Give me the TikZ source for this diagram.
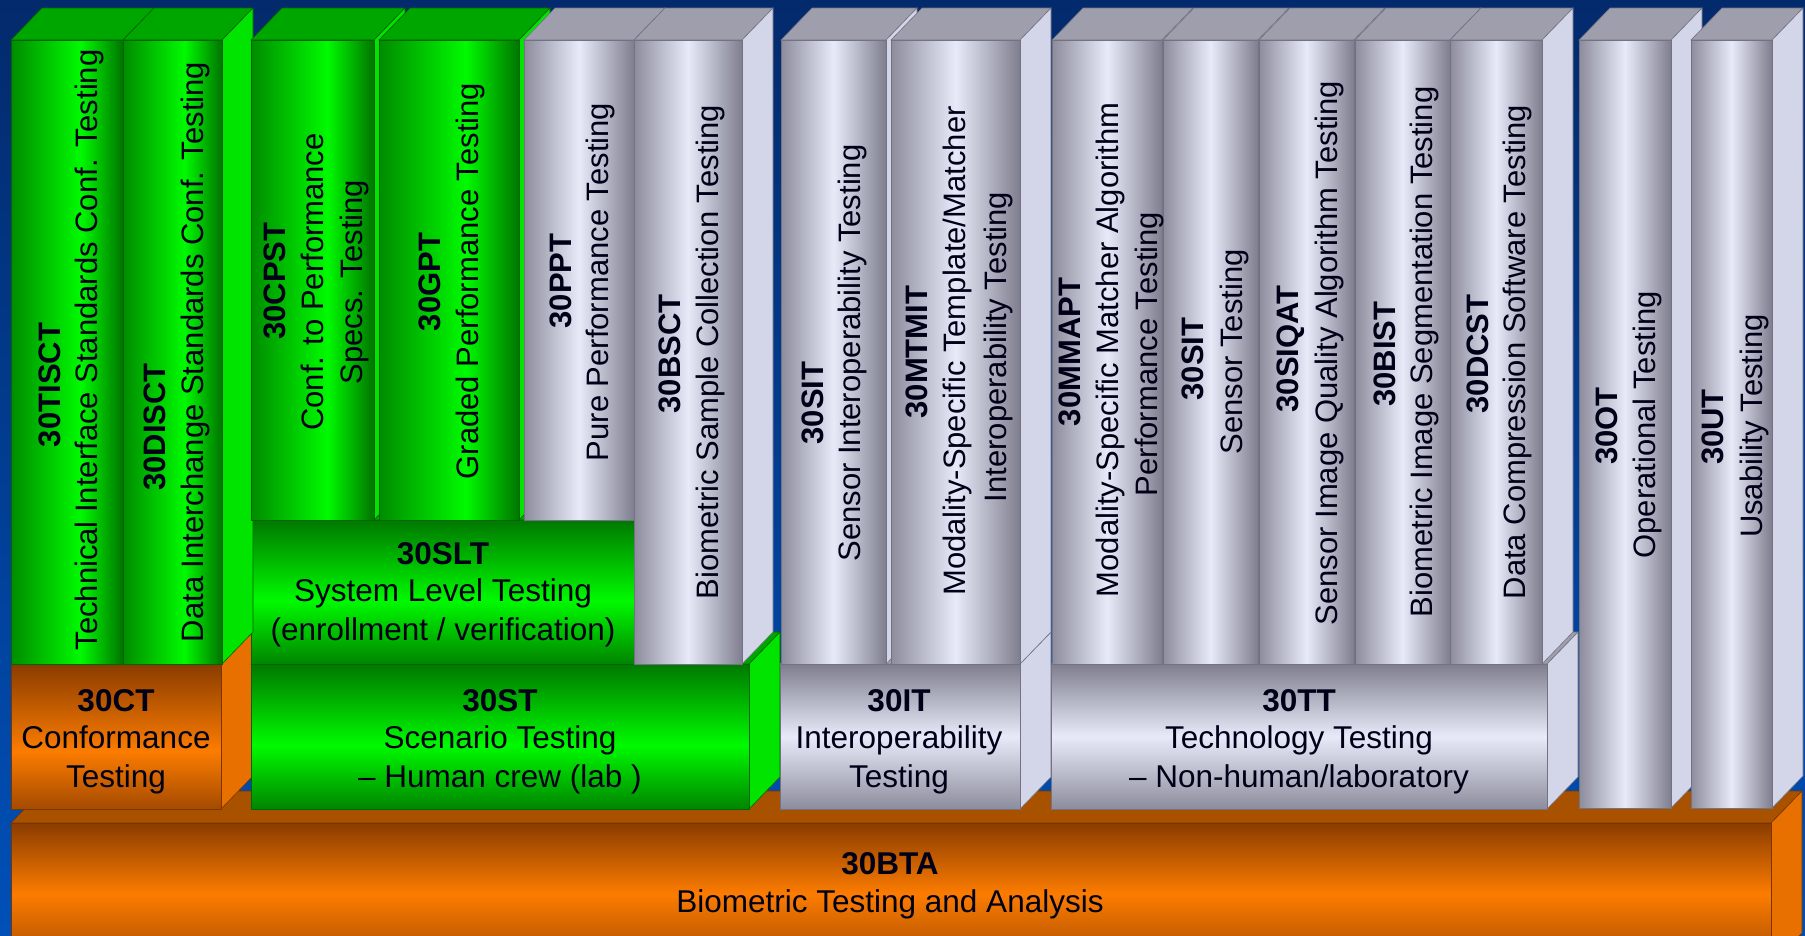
\documentclass[tikz,border=0pt]{standalone}
\usepackage{fontspec}
\setmainfont{Liberation Sans}

\definecolor{bgtop}{HTML}{032A6C}
\definecolor{bgbot}{HTML}{0050B8}
\definecolor{ink}{HTML}{000018}
\definecolor{grA}{HTML}{008C00}
\definecolor{grB}{HTML}{00FA00}
\definecolor{grC}{HTML}{007400}
\definecolor{grD}{HTML}{008400}
\definecolor{grE}{HTML}{007800}
\definecolor{grtop}{HTML}{00A600}
\definecolor{grside}{HTML}{00E400}
\definecolor{grline}{HTML}{006400}
\definecolor{gyA}{HTML}{8C8C9C}
\definecolor{gyB}{HTML}{E8EAFA}
\definecolor{gyC}{HTML}{7E7E8E}
\definecolor{gytop}{HTML}{9E9EAC}
\definecolor{gyside}{HTML}{D3D5E8}
\definecolor{gyline}{HTML}{727282}
\definecolor{orA}{HTML}{8A3C00}
\definecolor{orB}{HTML}{FC7C00}
\definecolor{orC}{HTML}{A44A00}
\definecolor{ortop}{HTML}{A85200}
\definecolor{orside}{HTML}{E87000}
\definecolor{orline}{HTML}{7A3400}

\pgfdeclarehorizontalshading{grcol}{100bp}{color(0bp)=(grA); color(25bp)=(grA); color(56bp)=(grB); color(75bp)=(grC); color(100bp)=(grC)}
\pgfdeclarehorizontalshading{gycol}{100bp}{color(0bp)=(gyA); color(25bp)=(gyA); color(50bp)=(gyB); color(75bp)=(gyC); color(100bp)=(gyC)}
\pgfdeclareverticalshading{grbox}{100bp}{color(0bp)=(grD); color(25bp)=(grD); color(47bp)=(grB); color(75bp)=(grE); color(100bp)=(grE)}
\pgfdeclareverticalshading{gybox}{100bp}{color(0bp)=(gyA); color(25bp)=(gyA); color(50bp)=(gyB); color(75bp)=(gyC); color(100bp)=(gyC)}
\pgfdeclareverticalshading{orbox}{100bp}{color(0bp)=(orC); color(25bp)=(orC); color(45bp)=(orB); color(75bp)=(orA); color(100bp)=(orA)}
\pgfdeclareverticalshading{orbase}{100bp}{color(0bp)=(orC); color(25bp)=(orC); color(50bp)=(orB); color(75bp)=(orA); color(100bp)=(orA)}

% #1,#2 left/right of front face, #3,#4 top/bottom, #5 colour family, #6 front shading
\newcommand{\prism}[6]{%
  \filldraw[fill=#5top, draw=#5line, line width=0.6pt] (#1,#3) -- (#1+31,#3-32) -- (#2+31,#3-32) -- (#2,#3) -- cycle;
  \filldraw[fill=#5side, draw=#5line, line width=0.6pt] (#2,#3) -- (#2+31,#3-32) -- (#2+31,#4-32) -- (#2,#4) -- cycle;
  \shade[shading=#5#6, draw=#5line, line width=0.6pt] (#1,#3) rectangle (#2,#4);
}

\begin{document}
\begin{tikzpicture}[x=1pt, y=-1pt,
    colcode/.style={rotate=90, anchor=base, inner sep=0pt, text=ink, font=\fontsize{31}{37}\selectfont\bfseries},
    coltxt/.style={rotate=90, anchor=base, inner sep=0pt, text=ink, font=\fontsize{31}{37}\selectfont},
    boxcode/.style={anchor=base, inner sep=0pt, text=ink, font=\fontsize{31.5}{38}\selectfont\bfseries},
    boxtxt/.style={anchor=base, inner sep=0pt, text=ink, font=\fontsize{31.5}{38}\selectfont}]
\useasboundingbox (0,0) rectangle (1805,935);
\clip (0,0) rectangle (1805,935);
\shade[top color=bgtop, bottom color=bgbot] (0,0) rectangle (1805,935);

% base block
\prism{11}{1771}{823}{965}{or}{base}

% second row
\prism{11}{221}{664}{809}{or}{box}
\prism{251}{749}{664}{809}{gr}{box}
\prism{780}{1020}{664}{809}{gy}{box}
\prism{1051}{1547}{664}{809}{gy}{box}
\prism{1579}{1671}{40}{808}{gy}{col}
\prism{1691}{1772}{40}{808}{gy}{col}
\prism{251}{634}{520}{664}{gr}{box}

% columns
\prism{11}{123}{40}{664}{gr}{col}
\prism{123}{222}{40}{664}{gr}{col}
\prism{251}{374}{40}{520}{gr}{col}
\prism{379}{519}{40}{520}{gr}{col}
\prism{524}{634}{40}{520}{gy}{col}
\prism{634}{742}{40}{664}{gy}{col}
\prism{781}{886}{40}{664}{gy}{col}
\prism{891}{1020}{40}{664}{gy}{col}
\prism{1052}{1162}{40}{664}{gy}{col}
\prism{1163}{1258}{40}{664}{gy}{col}
\prism{1259}{1354}{40}{664}{gy}{col}
\prism{1355}{1450}{40}{664}{gy}{col}
\prism{1450}{1542}{40}{664}{gy}{col}

% column labels
\node[colcode] (tisct) at (60,385) {30TISCT};
\node[coltxt] (tisct-a) at (97,350) {Technical Interface Standards Conf. Testing};
\node[colcode] (disct) at (165,427) {30DISCT};
\node[coltxt] (disct-a) at (203,352) {Data Interchange Standards Conf. Testing};
\node[colcode] (cpst) at (285,281) {30CPST};
\node[coltxt] (cpst-a) at (323,282) {Conf. to Performance};
\node[coltxt] (cpst-b) at (362,282) {Specs. Testing};
\node[colcode] (gpt) at (440,282) {30GPT};
\node[coltxt] (gpt-a) at (478,281) {Graded Performance Testing};
\node[colcode] (ppt) at (571,281) {30PPT};
\node[coltxt] (ppt-a) at (608,282) {Pure Performance Testing};
\node[colcode] (bsct) at (680,354) {30BSCT};
\node[coltxt] (bsct-a) at (718,352) {Biometric Sample Collection Testing};
\node[colcode] (sit) at (823,403) {30SIT};
\node[coltxt] (sit-a) at (860,353) {Sensor Interoperability Testing};
\node[colcode] (mtmit) at (927,352) {30MTMIT};
\node[coltxt] (mtmit-a) at (965,351) {Modality-Specific Template/Matcher};
\node[coltxt] (mtmit-b) at (1006,347) {Interoperability Testing};
\node[colcode] (mmapt) at (1080,352) {30MMAPT};
\node[coltxt] (mmapt-a) at (1118,350) {Modality-Specific Matcher Algorithm};
\node[coltxt] (mmapt-b) at (1157,354) {Performance Testing};
\node[colcode] (sst) at (1203,359) {30SIT};
\node[coltxt] (sst-a) at (1242,352) {Sensor Testing};
\node[colcode] (siqat) at (1298,349) {30SIQAT};
\node[coltxt] (siqat-a) at (1337,353) {Sensor Image Quality Algorithm Testing};
\node[colcode] (bist) at (1395,354) {30BIST};
\node[coltxt] (bist-a) at (1432,352) {Biometric Image Segmentation Testing};
\node[colcode] (dcst) at (1488,354) {30DCST};
\node[coltxt] (dcst-a) at (1525,352) {Data Compression Software Testing};
\node[colcode] (ot) at (1617,426) {30OT};
\node[coltxt] (ot-a) at (1655,425) {Operational Testing};
\node[colcode] (ut) at (1723,427) {30UT};
\node[coltxt] (ut-a) at (1762,426) {Usability Testing};

% block labels
\node[boxcode] (slt) at (443,564) {30SLT};
\node[boxtxt] (slt-a) at (443,601) {System Level Testing};
\node[boxtxt] (slt-b) at (443,640) {(enrollment / verification)};
\node[boxcode] (ct) at (116,711) {30CT};
\node[boxtxt] (ct-a) at (116,748) {Conformance};
\node[boxtxt] (ct-b) at (116,787) {Testing};
\node[boxcode] (st) at (500,711) {30ST};
\node[boxtxt] (st-a) at (500,748) {Scenario Testing};
\node[boxtxt] (st-b) at (500,787) {– Human crew (lab )};
\node[boxcode] (it) at (899,711) {30IT};
\node[boxtxt] (it-a) at (899,748) {Interoperability};
\node[boxtxt] (it-b) at (899,787) {Testing};
\node[boxcode] (tt) at (1299,711) {30TT};
\node[boxtxt] (tt-a) at (1299,748) {Technology Testing};
\node[boxtxt] (tt-b) at (1299,787) {– Non-human/laboratory};
\node[boxcode] (bta) at (890,874) {30BTA};
\node[boxtxt] (bta-a) at (890,912) {Biometric Testing and Analysis};
\end{tikzpicture}
\end{document}
